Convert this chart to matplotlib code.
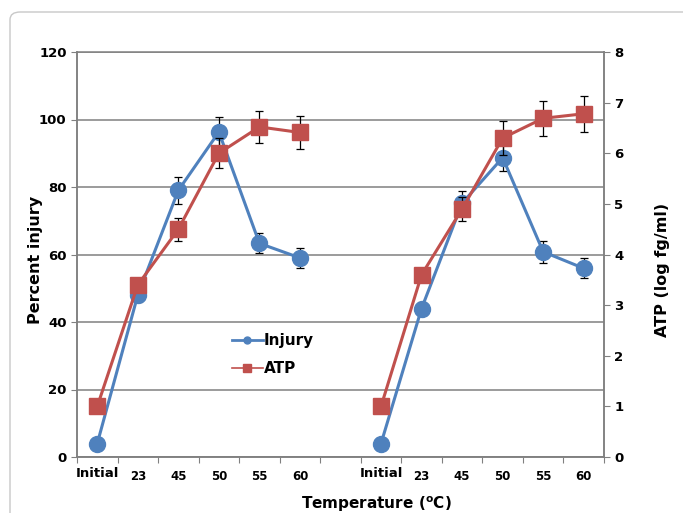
"""Percent injury and ATP vs temperature, two experiment groups."""

import matplotlib.pyplot as plt
import numpy as np
from matplotlib.patches import FancyBboxPatch

# categories (None = blank slot between the two groups)
categories = ["Initial", "23", "45", "50", "55", "60", None,
              "Initial", "23", "45", "50", "55", "60"]

injury = [4, 48, 79, 96.3, 63.3, 59, None, 4, 44, 75.2, 88.7, 60.8, 55.9]
injury_err = [0, 2, 3.9, 4.5, 3, 3, None, 0, 2, 3.5, 4, 3.2, 3]

atp = [1.0, 3.4, 4.5, 6.0, 6.52, 6.41, None, 1.0, 3.6, 4.9, 6.3, 6.69, 6.78]
atp_err = [0, 0.07, 0.23, 0.3, 0.32, 0.32, None, 0, 0.12, 0.24, 0.34, 0.35, 0.36]

BLUE = "#4F81BD"
RED = "#C0504D"
GREY = "#808080"


def groups(vals):
    """Split a list at the blank slot into (x, y) runs."""
    out, xs, ys = [], [], []
    for i, v in enumerate(vals):
        if v is None:
            out.append((xs, ys))
            xs, ys = [], []
        else:
            xs.append(i)
            ys.append(v)
    out.append((xs, ys))
    return out


fig = plt.figure(figsize=(6.83, 5.13), dpi=100)
fig.patches.append(FancyBboxPatch((10 / 683, -0.1), 1.1, 1.1 - 12 / 513,
                                  boxstyle="round,pad=0,rounding_size=0.015",
                                  transform=fig.transFigure, fill=False,
                                  edgecolor="#c8c8c8", linewidth=1.0))

ax = fig.add_axes([77 / 683, 56 / 513, 527 / 683, 405 / 513])
ax2 = ax.twinx()

for (xs, ys), (_, es) in zip(groups(injury), groups(injury_err)):
    ax.errorbar(xs, ys, yerr=es, color=BLUE, lw=2.2, marker="o", ms=11.5,
                ecolor="black", elinewidth=0.9, capsize=3, capthick=0.9, zorder=3)
for (xs, ys), (_, es) in zip(groups(atp), groups(atp_err)):
    ax2.errorbar(xs, ys, yerr=es, color=RED, lw=2.2, marker="s", ms=11,
                 ecolor="black", elinewidth=0.9, capsize=3, capthick=0.9, zorder=3)

ax.set_xlim(-0.5, len(categories) - 0.5)
ax.set_ylim(0, 120)
ax2.set_ylim(0, 8)

ax.set_yticks(np.arange(0, 121, 20))
ax2.set_yticks(np.arange(0, 9, 1))
ax.yaxis.grid(True, color=GREY, lw=1.1)
ax.set_axisbelow(True)

ax.set_xticks(np.arange(-0.5, len(categories), 1))
ax.set_xticklabels([])
lab_pos = [i for i, c in enumerate(categories) if c is not None]
ax.set_xticks(lab_pos, minor=True)
ax.set_xticklabels([categories[i] for i in lab_pos], minor=True)
ax.tick_params(axis="x", which="minor", length=0, pad=7)
ax.tick_params(axis="x", which="major", length=4, color=GREY)
for t in ax.get_xticklabels(minor=True):
    t.set_fontweight("bold")
    if t.get_text() == "Initial":
        t.set_fontsize(9.5)
    else:
        t.set_fontsize(8.5)
        t.set_y(-0.008)

for a in (ax, ax2):
    for s in a.spines.values():
        s.set_color(GREY)
        s.set_linewidth(1.1)
    a.tick_params(axis="y", length=4, color=GREY, labelsize=9.5)
    for t in a.get_yticklabels():
        t.set_fontweight("bold")
ax2.spines["top"].set_visible(False)

ax.set_ylabel("Percent injury", fontsize=11.5, fontweight="bold")
ax.yaxis.set_label_coords(-0.064, 0.486)
ax2.set_ylabel("ATP (log fg/ml)", fontsize=11.5, fontweight="bold")
ax2.yaxis.set_label_coords(1.097, 0.462)
ax.set_xlabel(r"Temperature ($^{\mathbf{o}}$C)", fontsize=11,
              fontweight="bold")
ax.xaxis.set_label_coords(0.569, -0.093)

handles = [
    plt.Line2D([], [], color=BLUE, lw=2, marker="o", ms=5),
    plt.Line2D([], [], color=RED, lw=1.2, marker="s", ms=5.5),
]
leg = ax.legend(handles, ["Injury", "ATP"], loc="upper left",
                bbox_to_anchor=(0.268, 0.34), frameon=False, handlelength=2.0,
                handletextpad=0.1, labelspacing=0.85,
                prop={"weight": "bold", "size": 11})
leg.set_zorder(5)

fig.savefig("out.png", dpi=100)
